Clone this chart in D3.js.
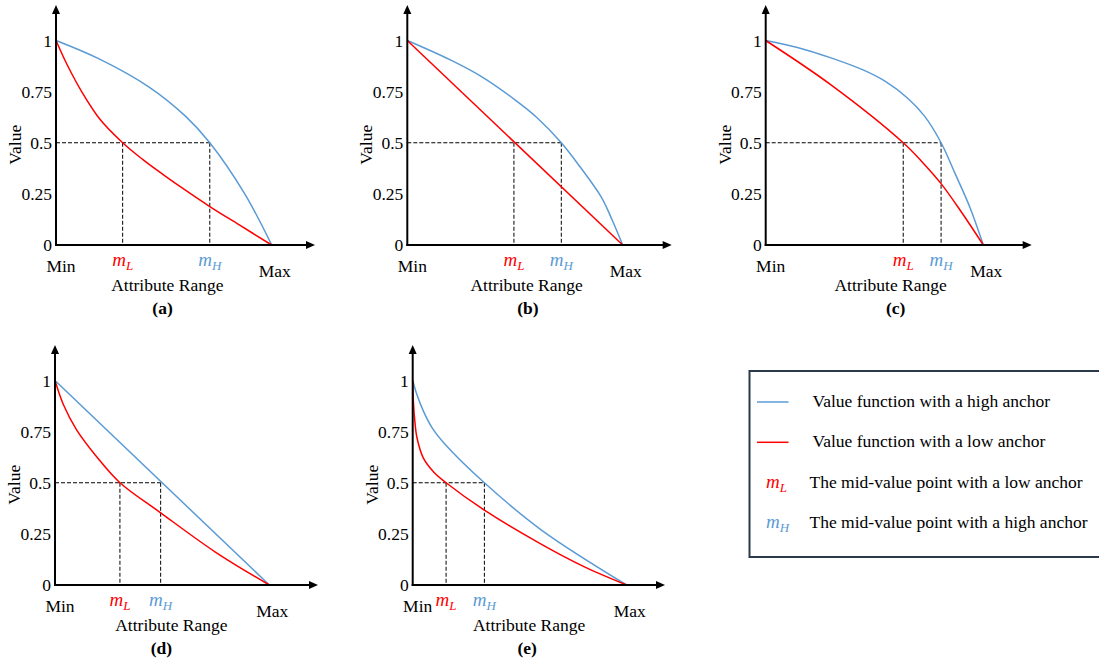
<!DOCTYPE html>
<html>
<head>
<meta charset="utf-8">
<script src="https://cdn.jsdelivr.net/npm/d3@7"></script>
<style>
  body { margin: 0; background: #fff; }
  svg { display: block; }
  text { font-family: "Liberation Serif", "Times New Roman", serif; fill: #000; }
</style>
</head>
<body>
<svg id="chart" width="1099" height="664"></svg>
<script>
// Panel captions and shared tick labels
const panelNames = ["(a)", "(b)", "(c)", "(d)", "(e)"];
const yTicks = [0, 0.25, 0.5, 0.75, 1];

// Value functions, x = share of attribute range (Min = 0, Max = 1)
const highAnchorA = [[0, 1], [0.2, 0.91], [0.435, 0.77], [0.6, 0.63], [0.713, 0.5], [0.875, 0.25], [1, 0]];
const lowAnchorA  = [[0, 1], [0.05, 0.885], [0.119, 0.75], [0.2, 0.62], [0.309, 0.5], [0.4, 0.42], [0.5, 0.342], [0.6, 0.268], [0.713, 0.188], [0.85, 0.098], [1, 0]];

const highAnchorB = [[0, 1], [0.2, 0.905], [0.35, 0.82], [0.5, 0.71], [0.6, 0.625], [0.715, 0.5], [0.8, 0.385], [0.9, 0.235], [0.95, 0.125], [1, 0]];
const lowAnchorB  = [[0, 1], [1, 0]];

const highAnchorC = [[0, 1], [0.15, 0.965], [0.3, 0.915], [0.45, 0.855], [0.55, 0.8], [0.65, 0.72], [0.73, 0.63], [0.806, 0.5], [0.87, 0.35], [0.94, 0.18], [1, 0]];
const lowAnchorC  = [[0, 1], [0.3, 0.783], [0.632, 0.5], [0.72, 0.405], [0.806, 0.3], [0.9, 0.16], [1, 0]];

const highAnchorD = [[0, 1], [1, 0]];
const lowAnchorD  = [[0, 1], [0.04, 0.88], [0.1, 0.76], [0.2, 0.62], [0.303, 0.5], [0.493, 0.353], [0.75, 0.16], [1, 0]];

const highAnchorE = [[0, 1], [0.02, 0.93], [0.05, 0.85], [0.09, 0.77], [0.15, 0.69], [0.335, 0.5], [0.6, 0.27], [1, 0]];
const lowAnchorE  = [[0, 1], [0.003, 0.9], [0.01, 0.8], [0.02, 0.72], [0.05, 0.62], [0.1, 0.55], [0.156, 0.5], [0.335, 0.366], [0.6, 0.2], [0.8, 0.09], [1, 0]];

const highAnchors = [highAnchorA, highAnchorB, highAnchorC, highAnchorD, highAnchorE];
const lowAnchors = [lowAnchorA, lowAnchorB, lowAnchorC, lowAnchorD, lowAnchorE];

// mid-value points (x where v = 0.5)
const midLow  = [0.309, 0.495, 0.632, 0.303, 0.156];
const midHigh = [0.713, 0.715, 0.806, 0.493, 0.335];

const legendLabels = [
    "Value function with a high anchor",
    "Value function with a low anchor",
    "The mid-value point with a low anchor",
    "The mid-value point with a high anchor"
];

const BLUE = "#5b9bd5";
const RED = "#ff0000";

// pixel layout of each panel
const layout = [
    { x0: 56,    x1: 271.7, xEnd: 315,   row: 0, axisLabelX: 0.516, capX: 0.494 },
    { x0: 407.3, x1: 622.7, xEnd: 671.7, row: 0, axisLabelX: 0.554, capX: 0.56 },
    { x0: 765.7, x1: 983.3, xEnd: 1031.7, row: 0, axisLabelX: 0.574, capX: 0.597 },
    { x0: 55,    x1: 269.3, xEnd: 318,   row: 1, axisLabelX: 0.543, capX: 0.497 },
    { x0: 412.7, x1: 626.7, xEnd: 665,   row: 1, axisLabelX: 0.544, capX: 0.535 }
];
const rows = [
    { top: 5,   y1: 40.5,  y0: 245 },
    { top: 345, y1: 380.5, y0: 585 }
];

const svg = d3.select("#chart");
const FS = 17.5;

function mLabel(g, x, y, sub, color, anchor) {
    const t = g.append("text")
        .attr("x", x)
        .attr("y", y)
        .attr("text-anchor", anchor || "middle")
        .style("fill", color)
        .style("font-style", "italic")
        .style("font-size", "19px");
    t.append("tspan").text("m");
    t.append("tspan")
        .attr("dy", 4)
        .style("font-size", "13px")
        .text(sub);
}

panelNames.forEach((name, i) => {
    const L = layout[i];
    const R = rows[L.row];

    const x = d3.scaleLinear().domain([0, 1]).range([L.x0, L.x1]);
    const y = d3.scaleLinear().domain([0, 1]).range([R.y0, R.y1]);

    const g = svg.append("g");

    // y tick labels
    const yAxis = g.append("g")
        .attr("transform", `translate(${L.x0},0)`)
        .call(d3.axisLeft(y).tickValues(yTicks).tickSize(0).tickPadding(4).tickFormat(d => String(d)));
    yAxis.select(".domain").remove();
    yAxis.selectAll("text")
        .style("font-family", "'Liberation Serif', serif")
        .style("font-size", FS + "px")
        .attr("fill", "#000");

    // dashed guides
    const dash = "4,2";
    g.append("line")
        .attr("x1", x(0)).attr("x2", x(midHigh[i]))
        .attr("y1", y(0.5)).attr("y2", y(0.5))
        .attr("stroke", "#000").attr("stroke-width", 1).attr("stroke-dasharray", dash);
    [midLow[i], midHigh[i]].forEach(m => {
        g.append("line")
            .attr("x1", x(m)).attr("x2", x(m))
            .attr("y1", y(0.5)).attr("y2", y(0))
            .attr("stroke", "#000").attr("stroke-width", 1).attr("stroke-dasharray", dash);
    });

    // curves
    const line = d3.line()
        .x(d => x(d[0]))
        .y(d => y(d[1]))
        .curve(d3.curveCatmullRom.alpha(0.5));

    g.append("path")
        .datum(highAnchors[i])
        .attr("d", line)
        .attr("fill", "none")
        .attr("stroke", BLUE)
        .attr("stroke-width", 1.5);

    g.append("path")
        .datum(lowAnchors[i])
        .attr("d", line)
        .attr("fill", "none")
        .attr("stroke", RED)
        .attr("stroke-width", 1.5);

    // axes with arrows
    g.append("line")
        .attr("x1", L.x0).attr("x2", L.x0)
        .attr("y1", R.y0 + 1).attr("y2", R.top + 6)
        .attr("stroke", "#000").attr("stroke-width", 2);
    g.append("path")
        .attr("d", `M${L.x0},${R.top} L${L.x0 - 4},${R.top + 9} L${L.x0 + 4},${R.top + 9} Z`)
        .attr("fill", "#000");
    g.append("line")
        .attr("x1", L.x0 - 1).attr("x2", L.xEnd - 6)
        .attr("y1", R.y0).attr("y2", R.y0)
        .attr("stroke", "#000").attr("stroke-width", 2);
    g.append("path")
        .attr("d", `M${L.xEnd},${R.y0} L${L.xEnd - 9},${R.y0 - 4} L${L.xEnd - 9},${R.y0 + 4} Z`)
        .attr("fill", "#000");

    // axis texts
    g.append("text")
        .attr("x", x(0) + 5).attr("y", R.y0 + 27)
        .attr("text-anchor", "middle")
        .style("font-size", FS + "px")
        .text("Min");
    g.append("text")
        .attr("x", x(1) + 3).attr("y", R.y0 + 32)
        .attr("text-anchor", "middle")
        .style("font-size", FS + "px")
        .text("Max");

    mLabel(g, x(midLow[i]), R.y0 + 21, "L", RED);
    mLabel(g, x(midHigh[i]), R.y0 + 21, "H", BLUE);

    g.append("text")
        .attr("x", x(L.axisLabelX)).attr("y", R.y0 + 45.5)
        .attr("text-anchor", "middle")
        .style("font-size", FS + "px")
        .text("Attribute Range");

    g.append("text")
        .attr("transform", `translate(${L.x0 - 35},${y(0.5) + 2}) rotate(-90)`)
        .attr("text-anchor", "middle")
        .style("font-size", FS + "px")
        .text("Value");

    g.append("text")
        .attr("x", x(L.capX)).attr("y", R.y0 + 69)
        .attr("text-anchor", "middle")
        .style("font-size", FS + "px")
        .style("font-weight", "bold")
        .text(name);
});

// Legend
const legend = svg.append("g");
legend.append("rect")
    .attr("x", 749.5).attr("y", 371)
    .attr("width", 400).attr("height", 186)
    .attr("fill", "none")
    .attr("stroke", "#2b3a4a")
    .attr("stroke-width", 2);

const rowY = [407, 447.3, 488, 528.3];
const legendColors = [BLUE, RED, RED, BLUE];

legendLabels.forEach((label, i) => {
    if (i < 2) {
        legend.append("line")
            .attr("x1", 757).attr("x2", 788.5)
            .attr("y1", rowY[i] - 5).attr("y2", rowY[i] - 5)
            .attr("stroke", legendColors[i]).attr("stroke-width", 1.5);
    } else {
        mLabel(legend, 766, rowY[i], i === 2 ? "L" : "H", legendColors[i], "start");
    }
    legend.append("text")
        .attr("x", i < 2 ? 812.5 : 809.5)
        .attr("y", rowY[i])
        .style("font-size", FS + "px")
        .text(label);
});
</script>
</body>
</html>
